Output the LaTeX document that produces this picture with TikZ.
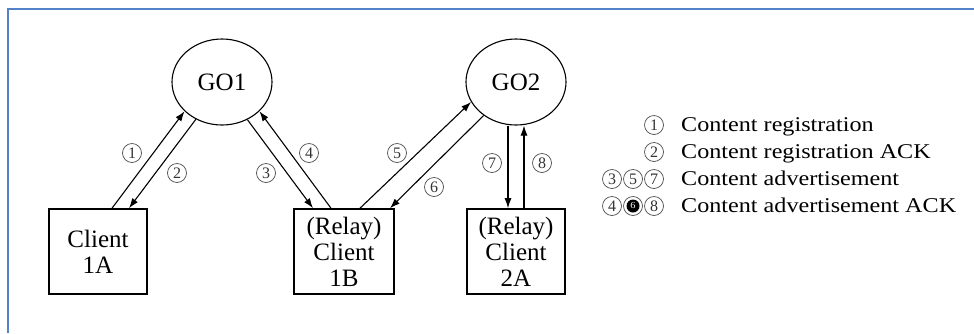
\documentclass[tikz,border=0pt]{standalone}
\usepackage{fontspec}
\setmainfont{Liberation Serif}[FakeStretch=1.15]
\newfontfamily\boxfont{Liberation Serif}
\usetikzlibrary{arrows.meta,shapes.geometric}
\definecolor{framecol}{RGB}{84,130,200}
\begin{document}
\begin{tikzpicture}[x=1pt,y=-1pt,
  every node/.style={inner sep=0pt},
  peer/.style={draw, line width=1.6pt, minimum width=98pt, minimum height=85pt,
    align=center, font=\boxfont\fontsize{25}{26}\selectfont},
  owner/.style={draw, ellipse, line width=1.1pt, minimum width=100pt, minimum height=86pt,
    font=\boxfont\fontsize{25}{26}\selectfont},
  msg/.style={line width=1.1pt, -{Latex[length=10pt,width=7pt]}},
  num/.style={draw=black!70, circle, line width=0.7pt, minimum size=19pt,
    font=\boxfont\fontsize{16}{16}\selectfont, text=black!80},
  key/.style={num, minimum size=19pt},
  keytext/.style={anchor=base west, font=\fontsize{21}{24}\selectfont}
]
\useasboundingbox (0,0) rectangle (974,333);
\fill[white] (0,0) rectangle (974,333);
% frame along the top and left edges
\draw[framecol, line width=2.5pt] (8,333) -- (8,9) -- (974,9);

% group owners and clients
\node[owner] (go1) at (222,82) {GO1};
\node[owner] (go2) at (516,82) {GO2};
\node[peer] (c1a) at (98,251.5) {Client\\1A};
\node[peer, minimum width=100pt] (c1b) at (344,251.5) {(Relay)\\Client\\1B};
\node[peer] (c2a) at (516,251.5) {(Relay)\\Client\\2A};

% messages
\draw[msg] ([xshift=14pt]c1a.north) -- (go1.218);
\draw[msg] (go1.235) -- ([xshift=31pt]c1a.north);
\draw[msg] (go1.304) -- ([xshift=-31pt]c1b.north);
\draw[msg] ([xshift=-13pt]c1b.north) -- (go1.322);
\draw[msg] ([xshift=16pt]c1b.north) -- (go2.204);
\draw[msg] (go2.226) -- ([xshift=46pt]c1b.north);
\draw[msg] ([xshift=-8pt]go2.south) -- ([xshift=-8pt]c2a.north);
\draw[msg] ([xshift=8pt]c2a.north) -- ([xshift=8pt]go2.south);

% message numbers
\node[num] (m1) at (132,153) {1};
\node[num] (m2) at (177,173) {2};
\node[num] (m3) at (266,173) {3};
\node[num] (m4) at (309,153) {4};
\node[num] (m5) at (397,153) {5};
\node[num] (m6) at (434,187) {6};
\node[num] (m7) at (492,163) {7};
\node[num] (m8) at (542,163) {8};

% legend
\node[key] (k1) at (654,125) {1};
\node[key] (k2) at (654,152) {2};
\node[key] (k3) at (612,179) {3};
\node[key] (k5) at (633,179) {5};
\node[key] (k7) at (654,179) {7};
\node[key] (k4) at (612,206) {4};
\node[key] (k6) at (633,206) {};
\fill (k6.center) circle (6.5pt);
\node[text=white, font=\fontsize{9}{9}\selectfont] (k6d) at (k6.center) {6};
\node[key] (k8) at (654,206) {8};
\node[keytext] (t1) at (681,131.5) {Content registration};
\node[keytext] (t2) at (681,158.5) {Content registration ACK};
\node[keytext] (t3) at (681,185.5) {Content advertisement};
\node[keytext] (t4) at (681,212.5) {Content advertisement ACK};
\end{tikzpicture}
\end{document}
